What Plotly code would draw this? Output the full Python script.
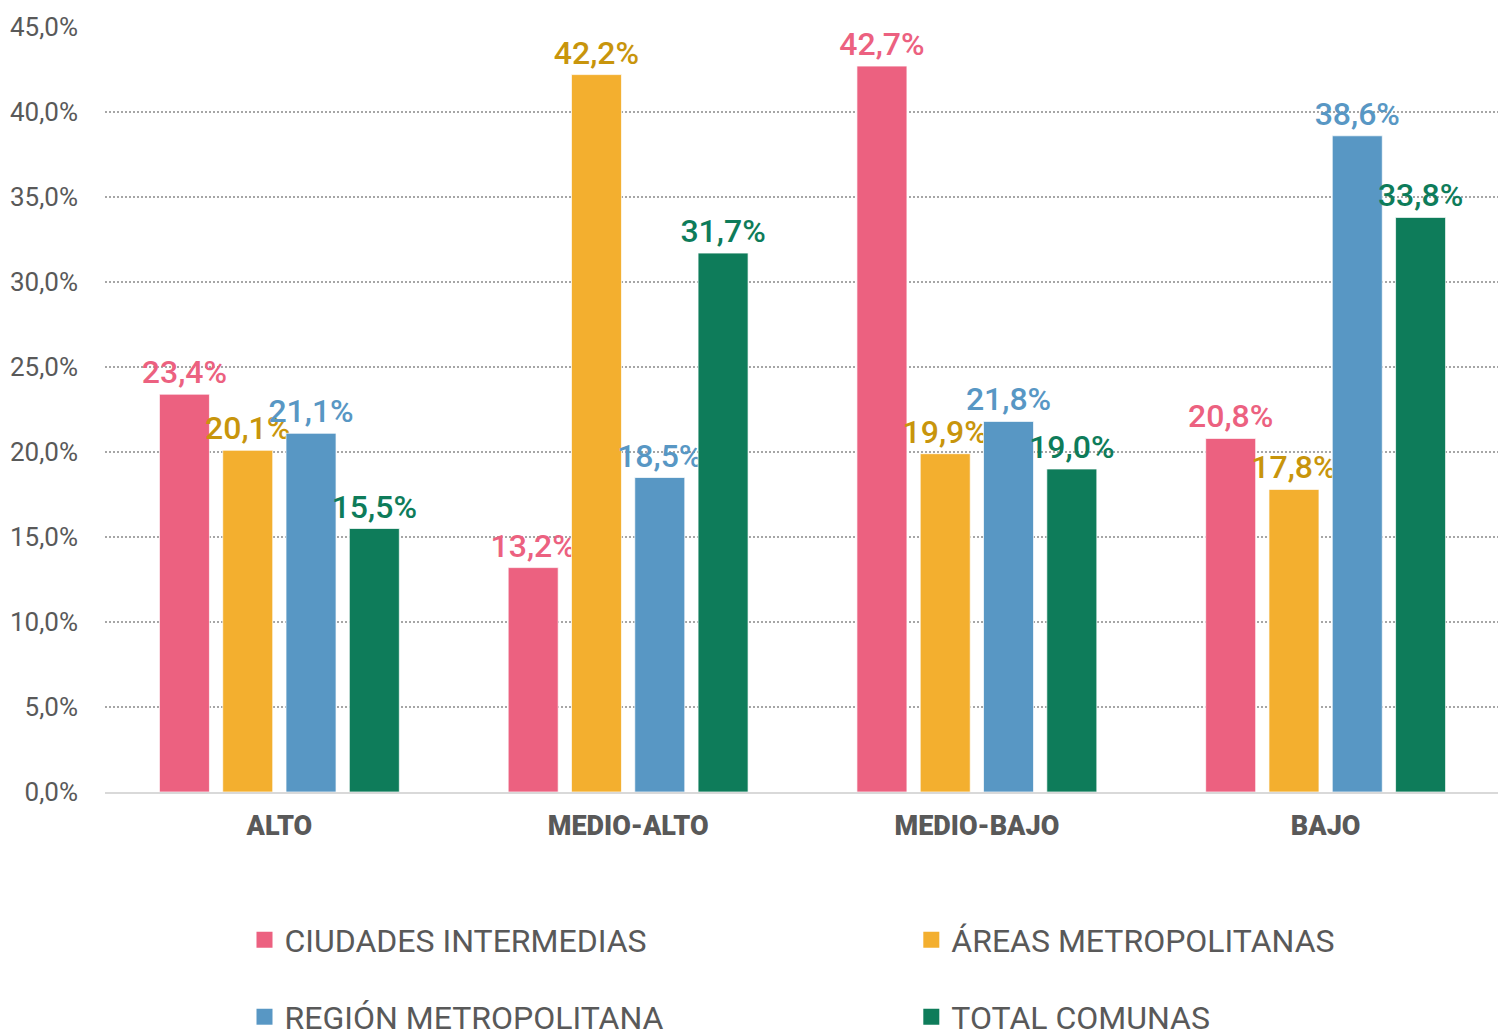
import plotly.graph_objects as go

categories = ["ALTO", "MEDIO-ALTO", "MEDIO-BAJO", "BAJO"]
series_names = ["CIUDADES INTERMEDIAS", "ÁREAS METROPOLITANAS", "REGIÓN METROPOLITANA", "TOTAL COMUNAS"]
ciudades_intermedias = [23.4, 13.2, 42.7, 20.8]
areas_metropolitanas = [20.1, 42.2, 19.9, 17.8]
region_metropolitana = [21.1, 18.5, 21.8, 38.6]
total_comunas = [15.5, 31.7, 19.0, 33.8]
y_ticks = [0, 5, 10, 15, 20, 25, 30, 35, 40, 45]
y_tick_labels = ["0,0%", "5,0%", "10,0%", "15,0%", "20,0%", "25,0%", "30,0%", "35,0%", "40,0%", "45,0%"]

series_values = [ciudades_intermedias, areas_metropolitanas, region_metropolitana, total_comunas]
bar_colors = ["#EC6180", "#F3AF2F", "#5897C4", "#0E7C5A"]
label_colors = ["#EC6180", "#C8950C", "#5897C4", "#0E7C5A"]
legend_ids = ["legend", "legend2", "legend3", "legend4"]
legend_x = [0.1, 0.578, 0.1, 0.578]
legend_y = [-0.1935, -0.1935, -0.294, -0.294]

FONT = "Roboto"
GRAY = "#595959"

fig = go.Figure()
for name, vals, bc, lc in zip(series_names, series_values, bar_colors, label_colors):
    fig.add_trace(go.Bar(
        x=categories, y=vals, name=name,
        marker=dict(color=bc, line=dict(color="rgba(255,255,255,0.7)", width=1)),
        texttemplate="%{y:.1f}%", textposition="outside", constraintext="none",
        textfont=dict(family=FONT, size=32, color=lc, weight=500),
        cliponaxis=False, showlegend=False, hoverinfo="skip",
    ))

# legend entries
for name, bc, lg in zip(series_names, bar_colors, legend_ids):
    fig.add_trace(go.Scatter(
        x=[None], y=[None], mode="markers", name=name,
        marker=dict(symbol="square", size=18, color=bc),
        legend=lg, showlegend=True,
    ))

legends = {}
for lg, lx, ly in zip(legend_ids, legend_x, legend_y):
    legends[lg] = dict(
        orientation="h", xanchor="left", yanchor="middle", x=lx, y=ly,
        font=dict(family=FONT, size=32, color=GRAY),
        bgcolor="rgba(0,0,0,0)", itemclick=False, itemdoubleclick=False,
    )

fig.update_layout(
    width=1506, height=1033,
    margin=dict(l=97, r=14, t=19, b=249, autoexpand=False),
    paper_bgcolor="white", plot_bgcolor="white",
    separators=",.",
    barmode="group", bargap=0.274, bargroupgap=0.21,
    font=dict(family=FONT, color=GRAY),
    xaxis=dict(
        type="category", showgrid=False, showline=True, linecolor="#D9D9D9", linewidth=2,
        ticks="", tickfont=dict(family=FONT, size=27, color=GRAY, weight=900),
        ticklabelstandoff=9, fixedrange=True,
    ),
    yaxis=dict(
        range=[0, 45], tickmode="array", tickvals=y_ticks, ticktext=y_tick_labels,
        showgrid=True, gridcolor="#A6A6A6", griddash="2px,2px", gridwidth=1.5,
        zeroline=False, showline=False, ticks="",
        tickfont=dict(family=FONT, size=26, color=GRAY),
        ticklabelstandoff=26, fixedrange=True,
    ),
    **legends,
)

fig.write_html("out.html")
